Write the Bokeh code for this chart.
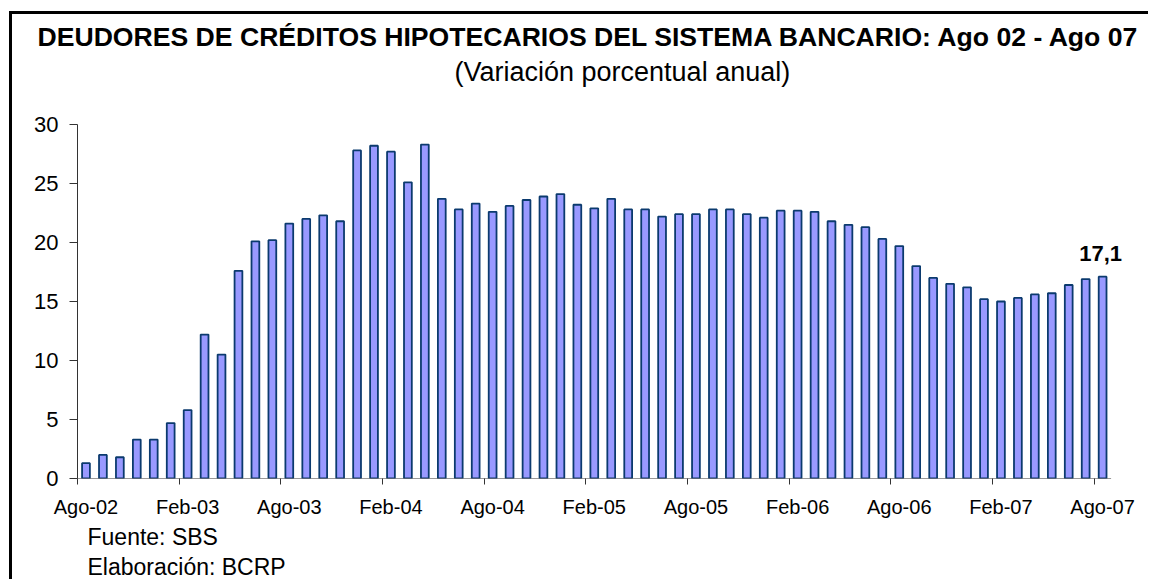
from bokeh.plotting import figure
from bokeh.models import Range1d, FixedTicker, Label, Title
from bokeh.embed import file_html
from bokeh.resources import INLINE

# ---- data -------------------------------------------------------------
months = ["Ago-02", "Sep-02", "Oct-02", "Nov-02", "Dic-02", "Ene-03",
          "Feb-03", "Mar-03", "Abr-03", "May-03", "Jun-03", "Jul-03",
          "Ago-03", "Sep-03", "Oct-03", "Nov-03", "Dic-03", "Ene-04",
          "Feb-04", "Mar-04", "Abr-04", "May-04", "Jun-04", "Jul-04",
          "Ago-04", "Sep-04", "Oct-04", "Nov-04", "Dic-04", "Ene-05",
          "Feb-05", "Mar-05", "Abr-05", "May-05", "Jun-05", "Jul-05",
          "Ago-05", "Sep-05", "Oct-05", "Nov-05", "Dic-05", "Ene-06",
          "Feb-06", "Mar-06", "Abr-06", "May-06", "Jun-06", "Jul-06",
          "Ago-06", "Sep-06", "Oct-06", "Nov-06", "Dic-06", "Ene-07",
          "Feb-07", "Mar-07", "Abr-07", "May-07", "Jun-07", "Jul-07",
          "Ago-07"]
values = [1.3, 2.0, 1.8, 3.3, 3.3, 4.7,
          5.8, 12.2, 10.5, 17.6, 20.1, 20.2,
          21.6, 22.0, 22.3, 21.8, 27.8, 28.2,
          27.7, 25.1, 28.3, 23.7, 22.8, 23.3,
          22.6, 23.1, 23.6, 23.9, 24.1, 23.2,
          22.9, 23.7, 22.8, 22.8, 22.2, 22.4,
          22.4, 22.8, 22.8, 22.4, 22.1, 22.7,
          22.7, 22.6, 21.8, 21.5, 21.3, 20.3,
          19.7, 18.0, 17.0, 16.5, 16.2, 15.2,
          15.0, 15.3, 15.6, 15.7, 16.4, 16.9,
          17.1]
tick_labels = ["Ago-02", "Feb-03", "Ago-03", "Feb-04", "Ago-04", "Feb-05",
               "Ago-05", "Feb-06", "Ago-06", "Feb-07", "Ago-07"]
y_ticks = [0, 5, 10, 15, 20, 25, 30]
last_label = "17,1"
title_text = "DEUDORES DE CRÉDITOS HIPOTECARIOS DEL SISTEMA BANCARIO: Ago 02 - Ago 07"
subtitle_text = "(Variación porcentual anual)"
source_text = "Fuente: SBS"
made_text = "Elaboración: BCRP"

FONT = "Liberation Sans"
n = len(values)
xs = list(range(n))
step = 6

p = figure(width=1139, height=568, output_backend="svg", toolbar_location=None,
           title=None,
           x_range=Range1d(-0.5, n + 1), y_range=Range1d(0, 30),
           min_border_left=65, min_border_right=15,
           min_border_top=110, min_border_bottom=104)
p.styles = {"margin-left": "9px", "margin-top": "11px",
            "margin-bottom": "-30px", "margin-right": "-30px",
            "border-left": "3px solid black", "border-top": "3px solid black"}

p.vbar(x=xs, top=values, width=0.46, bottom=0,
       fill_color="#9999FF", line_color="#0B3A6E", line_width=1.8)

# axes
p.grid.visible = False
p.outline_line_color = None
p.background_fill_color = "white"
p.border_fill_color = "white"

major = [i * step for i in range(len(tick_labels))]
minor = [m - 0.5 for m in major]
p.xaxis.ticker = FixedTicker(ticks=major, minor_ticks=minor)
p.xaxis.major_label_overrides = {m: lab for m, lab in zip(major, tick_labels)}
p.xaxis.major_tick_out = 0
p.xaxis.major_tick_in = 0
p.xaxis.minor_tick_out = 6
p.xaxis.minor_tick_in = 0
p.xaxis.minor_tick_line_color = "#333333"
p.xaxis.axis_line_color = None
p.xaxis.major_label_standoff = 11
p.xaxis.major_label_text_font = FONT
p.xaxis.major_label_text_font_size = "20px"
p.xaxis.major_label_text_color = "black"

# x-axis baseline only across the categories
p.segment(x0=[-0.5], x1=[n - 0.5], y0=[0], y1=[0], line_color="#333333", line_width=1.2)

p.yaxis.ticker = FixedTicker(ticks=y_ticks)
p.yaxis.major_tick_out = 8
p.yaxis.major_tick_in = 0
p.yaxis.minor_tick_line_color = None
p.yaxis.major_tick_line_color = "#333333"
p.yaxis.axis_line_color = "#333333"
p.yaxis.major_label_standoff = 11
p.yaxis.major_label_text_font = FONT
p.yaxis.major_label_text_font_size = "22px"
p.yaxis.major_label_text_color = "black"

# titles (nearest the frame first): spacer, subtitle, title
p.add_layout(Title(text=" ", align="left", standoff=25,
                   text_font=FONT, text_font_size="10px"), "above")
p.add_layout(Title(text=subtitle_text, align="left", offset=377, standoff=0,
                   text_font=FONT, text_font_size="27px", text_font_style="normal",
                   text_color="black"), "above")
p.add_layout(Title(text=title_text, align="left", offset=-40, standoff=4.5,
                   text_font=FONT, text_font_size="26.6px", text_font_style="bold",
                   text_color="black"), "above")

# notes under the axis
p.add_layout(Title(text=source_text, align="left", offset=10, standoff=3,
                   text_font=FONT, text_font_size="23px", text_font_style="normal",
                   text_color="black"), "below")
p.add_layout(Title(text=made_text, align="left", offset=10, standoff=0,
                   text_font=FONT, text_font_size="23px", text_font_style="normal",
                   text_color="black"), "below")

# value label of the last bar
p.add_layout(Label(x=n - 1, y=values[-1] + 2.0, text=last_label, text_align="center",
                   text_baseline="alphabetic", text_font=FONT, x_offset=-2,
                   text_font_style="bold", text_font_size="22px", text_color="black"))

open("out.html", "w").write(file_html(p, INLINE))
